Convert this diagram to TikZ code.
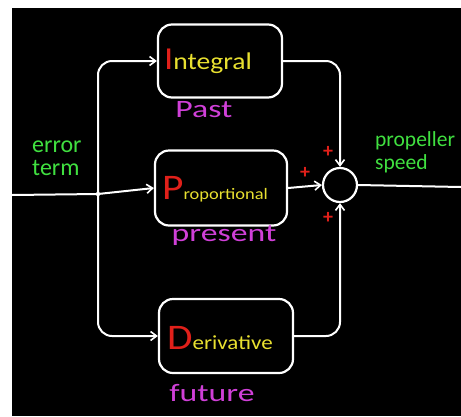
\documentclass[tikz,border=0pt]{standalone}
\usepackage{fontspec}
\setmainfont{Carlito}
\newfontfamily\chalk[FakeStretch=1.35]{Carlito}
\newfontfamily\chalkb[FakeStretch=1.15]{Carlito}
\usetikzlibrary{arrows.meta}
\definecolor{chalkred}{HTML}{E0201A}
\definecolor{chalkyellow}{HTML}{E8E030}
\definecolor{chalkpurple}{HTML}{D040D8}
\definecolor{chalkgreen}{HTML}{40E040}
\tikzset{
  blockbox/.style={draw=white, line width=2.2pt, rounded corners=14pt, fill=black,
    minimum width=#1, minimum height=74pt, inner sep=0pt},
  blocktext/.style={anchor=west, inner sep=0pt},
  conn/.style={draw=white, line width=2pt, rounded corners=14pt,
    -{Straight Barb[length=6pt,width=9pt,line width=1.6pt]}},
  wire/.style={draw=white, line width=2pt, rounded corners=14pt},
  timelbl/.style={text=chalkpurple, font=\chalk\fontsize{25}{28}\selectfont},
  sidelbl/.style={text=chalkgreen, font=\fontsize{#1}{23}\selectfont, align=left, inner sep=0pt},
  plussign/.style={text=chalkred, font=\bfseries\fontsize{20}{20}\selectfont, inner sep=0pt},
}
\newcommand{\blk}[4]{{\chalkb\color{chalkred}\fontsize{#1}{#1}\selectfont #2}{\chalkb\color{chalkyellow}\fontsize{#3}{24}\selectfont #4}}
\begin{document}
\begin{tikzpicture}[x=1pt,y=-1pt]
\useasboundingbox (0,0) rectangle (461,416);
\fill[white] (0,0) rectangle (461,416);
\fill[black] (12,8) rectangle (461,416);

\node[blockbox=124pt, minimum height=73pt] (I) at (220,61) {};
\node[blockbox=132pt, minimum height=75pt] (P) at (221,188) {};
\node[blockbox=134pt, minimum height=74pt] (D) at (226,336) {};
\node[blocktext] (Itxt) at (164,61) {\blk{32}{I}{24}{ntegral}};
\node[blocktext] (Ptxt) at (162,189) {\blk{36}{P}{16}{roportional}};
\node[blocktext] (Dtxt) at (167,338) {\blk{36}{D}{20}{erivative}};

\node[timelbl] (past) at (204,110) {Past};
\node[timelbl] (present) at (224,236) {present};
\node[timelbl] (future) at (212,393) {future};

\node[circle, draw=white, line width=2.2pt, minimum size=34pt, inner sep=0pt] (sum) at (340,185) {};

\coordinate (in) at (12,195);
\coordinate (br) at (98,194);
\coordinate (out) at (461,187);

\draw[wire] (in) -- (br);
\fill[white] (br) circle (2.2pt);
\draw[conn] (br) -- (P.west);
\draw[conn] (br) |- (I.west);
\draw[conn] (br) |- (D.west);
\draw[conn] (I.east) -| (sum.north);
\draw[conn] (D.east) -| (sum.south);
\draw[conn] (P.east) -- (sum.west);
\draw[wire] (sum.east) -- (out);

\node[sidelbl=24, anchor=north west] (err) at (32,141) {error\\term};
\node[sidelbl=21.5, anchor=north west] (prop) at (375,131) {propeller\\speed};

\node[plussign] (p1) at (328,152) {+};
\node[plussign] (p2) at (305,173) {+};
\node[plussign] (p3) at (328,218) {+};
\end{tikzpicture}
\end{document}
